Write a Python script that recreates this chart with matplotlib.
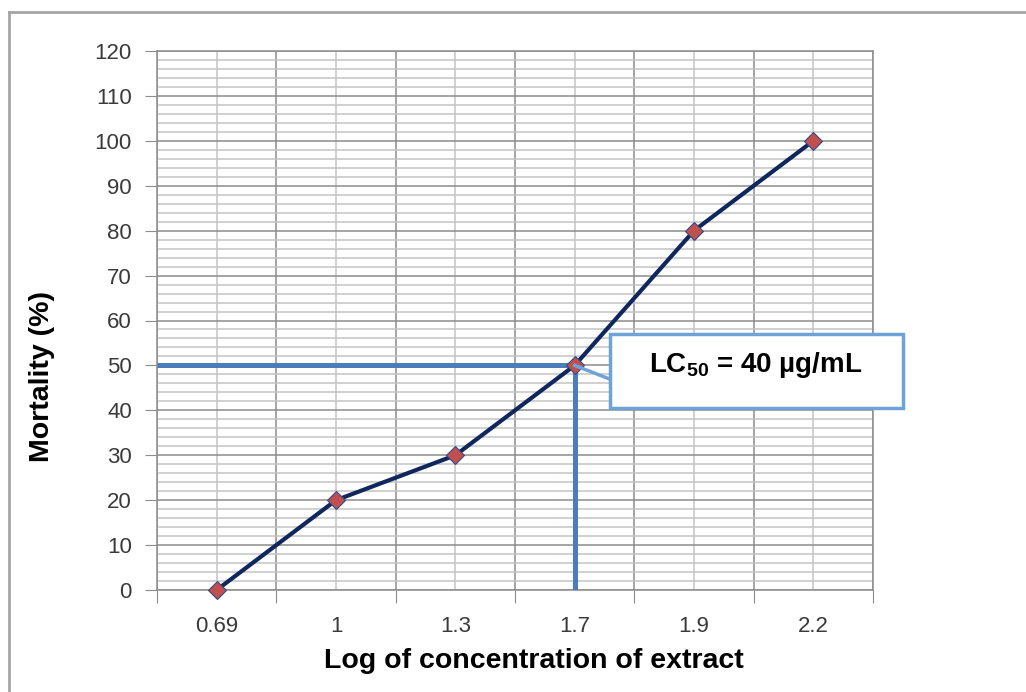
import matplotlib
matplotlib.use("Agg")
import matplotlib.pyplot as plt
from matplotlib.patches import Rectangle
from matplotlib.lines import Line2D
from matplotlib.ticker import MultipleLocator, FixedLocator

# data
log_conc = ["0.69", "1", "1.3", "1.7", "1.9", "2.2"]
mortality = [0, 20, 30, 50, 80, 100]
lc50_label = "1.7"
lc50_mortality = 50
lc50_text = r"LC$_{\mathregular{50}}$ = 40 µg/mL"

plt.rcParams["font.family"] = ["Liberation Sans", "DejaVu Sans"]
plt.rcParams["mathtext.default"] = "regular"

fig = plt.figure(figsize=(10.26, 6.92), dpi=100)
ax = fig.add_axes([157 / 1026, 1 - 590 / 692, 716 / 1026, 539 / 692])

x = list(range(len(log_conc)))
grid_major = "#8c8c8c"
grid_minor = "#c4c4c4"
tick_col = "#3a3a3a"

ax.set_xlim(-0.5, len(log_conc) - 0.5)
ax.set_ylim(0, 120)

# x: ticks between categories, labels at centres
ax.xaxis.set_major_locator(FixedLocator([i - 0.5 for i in range(len(log_conc) + 1)]))
ax.xaxis.set_minor_locator(FixedLocator(x))
ax.set_xticklabels([])
ax.set_xticks(x, log_conc, minor=True)
ax.tick_params(axis="x", which="major", length=9, color=grid_major, direction="out")
ax.tick_params(axis="x", which="minor", length=0, pad=19, labelsize=16, labelcolor=tick_col)

ax.yaxis.set_major_locator(MultipleLocator(10))
ax.yaxis.set_minor_locator(MultipleLocator(2))
ax.tick_params(axis="y", which="major", length=9, color=grid_major, direction="out",
               pad=9, labelsize=16, labelcolor=tick_col)
ax.tick_params(axis="y", which="minor", length=0)

ax.grid(which="major", color=grid_major, linewidth=1.1)
ax.grid(which="minor", color=grid_minor, linewidth=1.1)
ax.set_axisbelow(True)
for sp in ax.spines.values():
    sp.set_color(grid_major)
    sp.set_linewidth(1.1)

# LC50 guide lines
i50 = log_conc.index(lc50_label)
ax.plot([-0.5, i50], [lc50_mortality, lc50_mortality], color="#4a7ebb", lw=3.6,
        solid_capstyle="butt", zorder=3)
ax.plot([i50, i50], [0, lc50_mortality], color="#4a7ebb", lw=3.6,
        solid_capstyle="butt", zorder=3)

ax.plot(x, mortality, color="#10275e", lw=3, zorder=4, clip_on=False,
        marker="D", markersize=9.5, markerfacecolor="#c0504d",
        markeredgecolor="#2f4b8a", markeredgewidth=0.8)

# callout
ax.plot([i50, 3.30], [lc50_mortality, 46.9], color="#6fa3d8", lw=2.5, zorder=5,
        clip_on=False)
box = Rectangle((3.30, 40.5), 2.45, 16.5, facecolor="white", edgecolor="#6fa3d8",
                lw=2.5, zorder=6, clip_on=False)
ax.add_patch(box)
ax.text(4.52, 50.2, lc50_text, ha="center", va="center", fontsize=20,
        fontweight="bold", zorder=7)

ax.set_xlabel("Log of concentration of extract", fontsize=20.5, fontweight="bold")
ax.xaxis.set_label_coords((534 - 157) / 716, -(661 - 590) / 539)
ax.set_ylabel("Mortality (%)", fontsize=20.5, fontweight="bold")
ax.yaxis.set_label_coords(-(157 - 42) / 716, (590 - 376) / 539)
ax.yaxis.label.set_verticalalignment("center")
ax.xaxis.label.set_verticalalignment("center")

# outer chart border
fig.add_artist(Line2D([9 / 1026, 9 / 1026], [0, 1 - 12 / 692], color="#a6a6a6", lw=2))
fig.add_artist(Line2D([9 / 1026, 1], [1 - 12 / 692, 1 - 12 / 692], color="#a6a6a6", lw=2))

fig.savefig("out.png", dpi=100)
